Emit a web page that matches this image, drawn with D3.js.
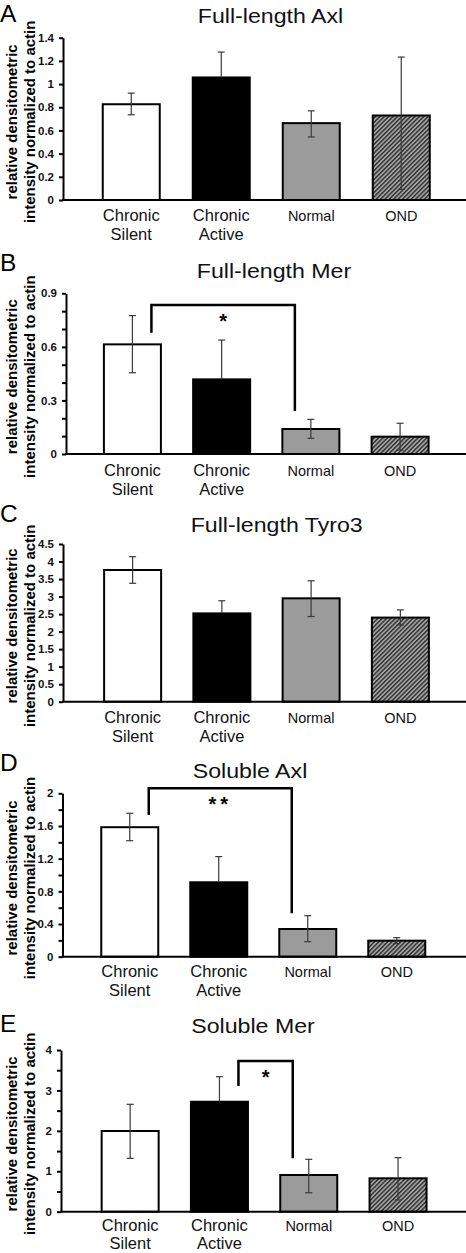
<!DOCTYPE html>
<html>
<head>
<meta charset="utf-8">
<script src="https://cdn.jsdelivr.net/npm/d3@7"></script>
<style>
  html, body { margin: 0; padding: 0; background: #fff; }
  svg { display: block; }
  text { font-family: "Liberation Sans", Arial, sans-serif; }
</style>
</head>
<body>
<svg id="chart" width="466" height="1253"></svg>
<script>
// ---------------- data ----------------
const categories = ["Chronic Silent", "Chronic Active", "Normal", "OND"];
const panelLetters = ["A", "B", "C", "D", "E"];
const panelTitles = ["Full-length Axl", "Full-length Mer", "Full-length Tyro3", "Soluble Axl", "Soluble Mer"];
const yAxisLabel = ["relative densitometric", "intensity normalized to actin"];

// means and error bar ends (upper / lower)
const axlFullMeans = [0.826, 1.057, 0.663, 0.729];
const axlFullHigh  = [0.922, 1.276, 0.769, 1.233];
const axlFullLow   = [0.735, 0.838, 0.544, 0.092];

const merFullMeans = [0.614, 0.418, 0.140, 0.097];
const merFullHigh  = [0.775, 0.638, 0.194, 0.172];
const merFullLow   = [0.455, 0.198, 0.088, 0.022];

const tyroFullMeans = [3.758, 2.520, 2.950, 2.400];
const tyroFullHigh  = [4.138, 2.880, 3.450, 2.620];
const tyroFullLow   = [3.379, 2.160, 2.430, 2.190];

const axlSolMeans = [1.585, 0.911, 0.339, 0.196];
const axlSolHigh  = [1.756, 1.225, 0.502, 0.233];
const axlSolLow   = [1.420, 0.597, 0.184, 0.160];

const merSolMeans = [1.996, 2.720, 0.908, 0.826];
const merSolHigh  = [2.657, 3.340, 1.296, 1.336];
const merSolLow   = [1.320, 2.100, 0.470, 0.290];

// y axis ticks and tick labels
const yTicksA = [0, 0.2, 0.4, 0.6, 0.8, 1, 1.2, 1.4];
const yTickLabelsA = ["0", "0.2", "0.4", "0.6", "0.8", "1", "1.2", "1.4"];
const yTicksB = [0, 0.1, 0.2, 0.3, 0.4, 0.5, 0.6, 0.7, 0.8, 0.9];
const yTickLabelsB = ["0", "", "", "0.3", "", "", "0.6", "", "", "0.9"];
const yTicksC = [0, 0.5, 1, 1.5, 2, 2.5, 3, 3.5, 4, 4.5];
const yTickLabelsC = ["0", "0.5", "1", "1.5", "2", "2.5", "3", "3.5", "4", "4.5"];
const yTicksD = [0, 0.2, 0.4, 0.6, 0.8, 1, 1.2, 1.4, 1.6, 1.8, 2];
const yTickLabelsD = ["0", "", "0.4", "", "0.8", "", "1.2", "", "1.6", "", "2"];
const yTicksE = [0, 0.5, 1, 1.5, 2, 2.5, 3, 3.5, 4];
const yTickLabelsE = ["0", "", "1", "", "2", "", "3", "", "4"];

// significance brackets: [from category, to category, left end, top, right end, label]
const sigB = ["Chronic Silent", "Normal", 0.679, 0.834, 0.241, "*"];
const sigD = ["Chronic Silent", "Normal", 1.735, 2.062, 0.531, "**"];
const sigE = ["Chronic Active", "Normal", 3.11, 3.728, 1.32, "*"];

// ---------------- assembly ----------------
const panels = [
  { means: axlFullMeans, hi: axlFullHigh, lo: axlFullLow, ticks: yTicksA, labels: yTickLabelsA, sig: null },
  { means: merFullMeans, hi: merFullHigh, lo: merFullLow, ticks: yTicksB, labels: yTickLabelsB, sig: sigB },
  { means: tyroFullMeans, hi: tyroFullHigh, lo: tyroFullLow, ticks: yTicksC, labels: yTickLabelsC, sig: null },
  { means: axlSolMeans, hi: axlSolHigh, lo: axlSolLow, ticks: yTicksD, labels: yTickLabelsD, sig: sigD },
  { means: merSolMeans, hi: merSolHigh, lo: merSolLow, ticks: yTicksE, labels: yTickLabelsE, sig: sigE }
];

// layout (pixels)
const layout = [
  { letterY: 22,   titleX: 270.5, titleY: 22.7,   axisX: 63,   yTop: 37.7,  yZero: 200,    x0: 86.25, x1: 446.25, lab0: 20.5, labStep: 19 },
  { letterY: 271,  titleX: 274,   titleY: 278.3,  axisX: 66,   yTop: 293.3, yZero: 454,    x0: 87.8,  x1: 444.7,  lab0: 22,   labStep: 19 },
  { letterY: 522,  titleX: 276.7, titleY: 531.7,  axisX: 63,   yTop: 544,   yZero: 701.7,  x0: 88,    x1: 445,    lab0: 21.5, labStep: 19 },
  { letterY: 771,  titleX: 250,   titleY: 778.3,  axisX: 62.5, yTop: 793.3, yZero: 956.7,  x0: 85.25, x1: 441.25, lab0: 20.5, labStep: 18.5 },
  { letterY: 1032, titleX: 253,   titleY: 1033.3, axisX: 61,   yTop: 1050,  yZero: 1211.7, x0: 85.5,  x1: 442.7,  lab0: 19.5, labStep: 17.5 }
];
const plotRight = 466;
const barW = 57;

const fills = ["#ffffff", "#000000", "#9b9b9b", "url(#hatch)"];

const svg = d3.select("#chart");

// hatch pattern
const defs = svg.append("defs");
const pat = defs.append("pattern")
  .attr("id", "hatch")
  .attr("patternUnits", "userSpaceOnUse")
  .attr("width", 3.1).attr("height", 3.1)
  .attr("patternTransform", "rotate(45)");
pat.append("rect").attr("width", 3.1).attr("height", 3.1).attr("fill", "#a2a2a2");
pat.append("line").attr("x1", 0.7).attr("y1", -1).attr("x2", 0.7).attr("y2", 5)
  .attr("stroke", "#2a2a2a").attr("stroke-width", 1.35);

panels.forEach((p, pi) => {
  const L = layout[pi];
  const g = svg.append("g");
  const step = (L.x1 - L.x0) / categories.length;
  const pin = 1 - barW / step;
  const x = d3.scaleBand().domain(categories).range([L.x0, L.x1])
    .paddingInner(pin).paddingOuter(pin / 2);
  const y = d3.scaleLinear().domain([0, p.ticks[p.ticks.length - 1]]).range([L.yZero, L.yTop]);
  const cx = i => x(categories[i]) + x.bandwidth() / 2;

  // panel letter
  g.append("text").attr("x", 0).attr("y", L.letterY)
    .attr("font-size", 24.5).attr("fill", "#000").text(panelLetters[pi]);

  // title
  g.append("text")
    .attr("transform", `translate(${L.titleX},${L.titleY}) scale(1.13,1)`)
    .attr("text-anchor", "middle").attr("font-size", 20.5).attr("fill", "#111")
    .text(panelTitles[pi]);

  // y axis label
  const ymid = (L.yTop + L.yZero) / 2 + 3;
  const yl = g.append("text")
    .attr("transform", `translate(17,${ymid}) rotate(-90)`)
    .attr("text-anchor", "middle").attr("font-size", 15).attr("font-weight", "bold");
  yl.append("tspan").attr("x", 0).attr("dy", 0).text(yAxisLabel[0]);
  yl.append("tspan").attr("x", 0).attr("dy", 18).text(yAxisLabel[1]);

  // bars
  g.selectAll("rect.bar").data(p.means).enter().append("rect")
    .attr("class", "bar")
    .attr("x", (d, i) => x(categories[i]))
    .attr("y", d => y(d))
    .attr("width", x.bandwidth())
    .attr("height", d => y(0) - y(d))
    .attr("fill", (d, i) => fills[i])
    .attr("stroke", "#000").attr("stroke-width", 2);

  // error bars (lower half disappears inside the black bar)
  const errColor = i => (fills[i] === "#000000" ? "#000" : "#3a3a3a");
  const eb = g.selectAll("g.err").data(p.means).enter().append("g").attr("class", "err")
    .attr("stroke-width", 1.2);
  eb.append("line")
    .attr("x1", (d, i) => cx(i)).attr("x2", (d, i) => cx(i))
    .attr("y1", (d, i) => y(p.hi[i])).attr("y2", d => y(d))
    .attr("stroke", "#3a3a3a");
  eb.append("line")
    .attr("x1", (d, i) => cx(i)).attr("x2", (d, i) => cx(i))
    .attr("y1", d => y(d)).attr("y2", (d, i) => y(p.lo[i]))
    .attr("stroke", (d, i) => errColor(i));
  eb.append("line")
    .attr("x1", (d, i) => cx(i) - 3.5).attr("x2", (d, i) => cx(i) + 3.5)
    .attr("y1", (d, i) => y(p.hi[i])).attr("y2", (d, i) => y(p.hi[i]))
    .attr("stroke", "#3a3a3a");
  eb.append("line")
    .attr("x1", (d, i) => cx(i) - 3.5).attr("x2", (d, i) => cx(i) + 3.5)
    .attr("y1", (d, i) => y(p.lo[i])).attr("y2", (d, i) => y(p.lo[i]))
    .attr("stroke", (d, i) => errColor(i));

  // y axis
  const yAxis = d3.axisLeft(y).tickValues(p.ticks)
    .tickFormat((d, i) => p.labels[i]).tickSize(4).tickSizeOuter(0).tickPadding(5);
  const ya = g.append("g").attr("transform", `translate(${L.axisX},0)`).call(yAxis);
  ya.select(".domain").attr("stroke", "#000").attr("stroke-width", 2);
  ya.selectAll(".tick line").attr("stroke", "#000").attr("stroke-width", 2);
  ya.selectAll(".tick text").attr("font-size", 11.5).attr("font-weight", "bold")
    .attr("fill", "#111").style("font-family", '"Liberation Sans", Arial, sans-serif');

  // x axis line
  g.append("line").attr("x1", L.axisX - 1).attr("x2", plotRight)
    .attr("y1", y(0)).attr("y2", y(0)).attr("stroke", "#000").attr("stroke-width", 2);

  // category labels
  categories.forEach((c, i) => {
    const words = c.split(" ");
    const t = g.append("text").attr("text-anchor", "middle").attr("fill", "#111")
      .attr("font-size", words.length > 1 ? 16.5 : 14.5);
    words.forEach((w, wi) => {
      t.append("tspan").attr("x", cx(i)).attr("y", y(0) + L.lab0 + wi * L.labStep).text(w);
    });
  });

  // significance bracket
  if (p.sig) {
    const [from, to, yl1, yt, yr, lab] = p.sig;
    const xl = x(from) + x.bandwidth() / 2 + 19;
    const xr = x(to) + x.bandwidth() / 2 - 16;
    g.append("path")
      .attr("d", `M${xl},${y(yl1)}V${y(yt)}H${xr}V${y(yr)}`)
      .attr("fill", "none").attr("stroke", "#000").attr("stroke-width", 2.5);
    g.append("text").attr("x", (xl + xr) / 2).attr("y", y(yt) + 23)
      .attr("text-anchor", "middle").attr("font-size", 20).attr("font-weight", "bold")
      .attr("letter-spacing", lab.length > 1 ? 4 : 0)
      .text(lab);
  }
});
</script>
</body>
</html>
